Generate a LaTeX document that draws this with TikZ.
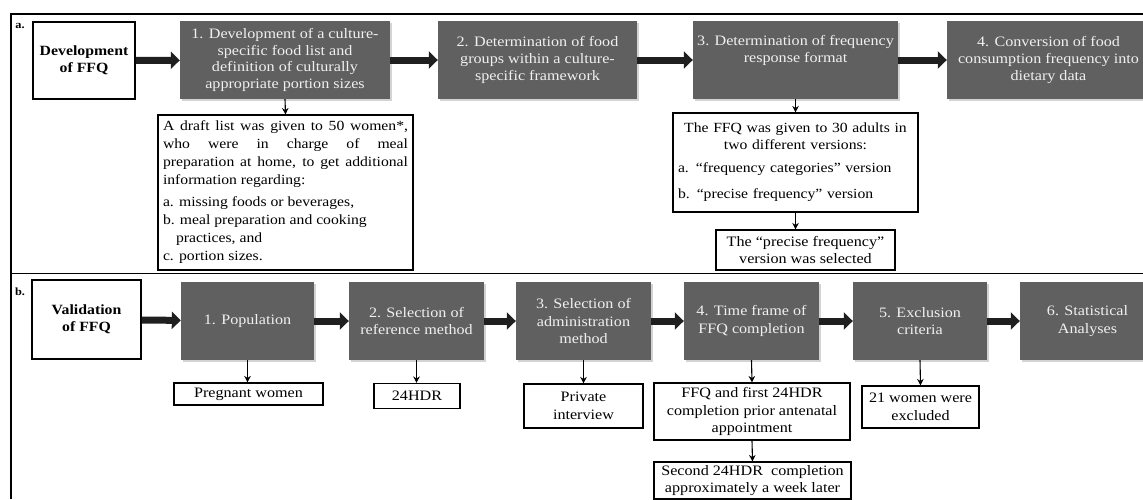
\documentclass[tikz,border=0pt]{standalone}
\usepackage{fontspec}
\setmainfont{Liberation Serif}[FakeStretch=1.12]
\usetikzlibrary{arrows.meta,shadows,positioning}
\definecolor{boxgray}{RGB}{96,96,96}
\definecolor{boxtext}{RGB}{240,240,240}
\newcommand{\Fs}{\fontsize{14.4}{17.5}\selectfont}
\newcommand{\RowA}{60}
\newcommand{\RowB}{321}

\begin{document}
\begin{tikzpicture}[x=1pt,y=-1pt,
    graybox/.style={fill=boxgray, text=boxtext, align=center, font=\Fs,
        inner sep=2pt, minimum height=78pt,
        drop shadow={shadow xshift=1.5pt, shadow yshift=-1.5pt, opacity=0.35}},
    labelbox/.style={draw, line width=1.3pt, fill=white, align=center,
        font=\bfseries\fontsize{14.1}{17}\selectfont},
    subbox/.style={draw, line width=1.1pt, fill=white, align=center, font=\Fs, inner sep=1pt},
    bigarrow/.style={line width=7pt, black!88, -{Triangle[length=9pt,width=17pt]}},
    downarrow/.style={line width=1.1pt, -{Stealth[length=6.5pt,width=6.5pt]}},
    tag/.style={font=\bfseries\fontsize{11}{12}\selectfont, inner sep=0pt}]
    \useasboundingbox (0,0) rectangle (1143,499);

    % frame of both panels
    \draw[line width=1.2pt] (11,499) -- (11,14) -- (1143,14);
    \draw[line width=0.9pt] (11,273) -- (1143,273);
    \path (20,26) node[tag] (taga) {a.};
    \path (20,292) node[tag] (tagb) {b.};

    % a. development of the FFQ
    \path (84,60.5) node[labelbox, minimum width=102pt, minimum height=77pt] (devffq) {Development\\of FFQ};
    \path (285,\RowA) node[graybox, font=\fontsize{14.4}{16.7}\selectfont, minimum width=210pt] (a1) {1. Development of a culture-\\specific food list and\\definition of culturally\\appropriate portion sizes};
    \path (537.5,\RowA) node[graybox, font=\fontsize{14.4}{16.7}\selectfont, minimum width=199pt] (a2) {2. Determination of food\\groups within a culture-\\specific framework};
    \path (795.5,\RowA) node[graybox, font=\fontsize{14.4}{16.7}\selectfont, minimum width=205pt] (a3) {3. Determination of frequency\\response format\\[6pt]};
    \path (1048.5,\RowA) node[graybox, font=\fontsize{14.4}{16.7}\selectfont, minimum width=203pt] (a4) {4. Conversion of food\\consumption frequency into\\dietary data};

    \path (285.5,192.5) node[subbox, font=\fontsize{14}{18}\selectfont, text width=245pt, align=justify,
            inner xsep=5pt, inner ysep=3pt, minimum height=155pt] (draft)
        {A draft list was given to 50 women*,\linebreak who were in charge of meal\linebreak preparation at home, to get additional\linebreak information regarding:\par
        \vspace{4pt}\raggedright a. missing foods or beverages,\\
        b. meal preparation and cooking\\
        \hspace*{13pt}practices, and\\
        c. portion sizes.};
    \path (795.5,162.5) node[subbox, font=\fontsize{14}{17}\selectfont, text width=235pt, align=left,
            inner xsep=5pt, minimum height=99pt] (ffqgiven)
        {\centering The FFQ was given to 30 adults in\\two different versions:\par
        \raggedright\vspace{6pt}a. ``frequency categories'' version\par
        \vspace{9pt}b. ``precise frequency'' version};
    \path (805.5,250) node[subbox, minimum width=179pt, minimum height=40pt] (precise)
        {The ``precise frequency''\\version was selected};

    \draw[bigarrow] (devffq) -- (a1);
    \draw[bigarrow] (a1) -- (a2);
    \draw[bigarrow] (a2) -- (a3);
    \draw[bigarrow] (a3) -- (a4);
    \draw[downarrow] (a1.south) -- (draft.north);
    \draw[downarrow] (a3.south) -- (ffqgiven.north);
    \draw[downarrow] (ffqgiven.south) -- (ffqgiven.south |- precise.north);

    % b. validation of the FFQ
    \path (86.5,319.5) node[labelbox, minimum width=109pt, minimum height=79pt] (valffq) {Validation\\of FFQ};
    \path (247.5,\RowB) node[graybox, minimum width=133pt] (b1) {1. Population};
    \path (416.5,\RowB) node[graybox, minimum width=135pt] (b2) {2. Selection of\\reference method};
    \path (583.5,\RowB) node[graybox, minimum width=135pt] (b3) {3. Selection of\\administration\\method};
    \path (751.5,\RowB) node[graybox, minimum width=135pt] (b4) {4. Time frame of\\FFQ completion};
    \path (920,\RowB) node[graybox, minimum width=134pt] (b5) {5. Exclusion\\criteria};
    \path (1087.5,\RowB) node[graybox, minimum width=135pt] (b6) {6. Statistical\\Analyses};

    \path (248.5,394) node[subbox, minimum width=149pt, minimum height=22pt] (pregnant) {Pregnant women};
    \path (417,396) node[subbox, minimum width=86pt, minimum height=25pt] (hdr) {24HDR};
    \path (583.5,406) node[subbox, minimum width=119pt, minimum height=44pt] (private) {Private\\interview};
    \path (752,411.5) node[subbox, minimum width=196pt, minimum height=57pt] (ffqfirst) {FFQ and first 24HDR\\completion prior antenatal\\appointment};
    \path (752.5,480.5) node[subbox, minimum width=197pt, minimum height=37pt] (second) {Second 24HDR\ \ completion\\approximately a week later};
    \path (920.5,407) node[subbox, minimum width=117pt, minimum height=42pt] (excluded) {21 women were\\excluded};

    \draw[bigarrow] (valffq) -- (b1);
    \foreach \X/\Y in {b1/b2,b2/b3,b3/b4,b4/b5,b5/b6}{
        \draw[bigarrow] (\X) -- (\Y);
    }
    \draw[downarrow] (b1.south) -- (b1.south |- pregnant.north);
    \draw[downarrow] (b2.south) -- (b2.south |- hdr.north);
    \draw[downarrow] (b3.south) -- (private.north);
    \draw[downarrow] (b4.south) -- (ffqfirst.north);
    \draw[downarrow] (ffqfirst.south) -- (second.north);
    \draw[downarrow] (b5.south) -- (excluded.north);
\end{tikzpicture}
\end{document}
